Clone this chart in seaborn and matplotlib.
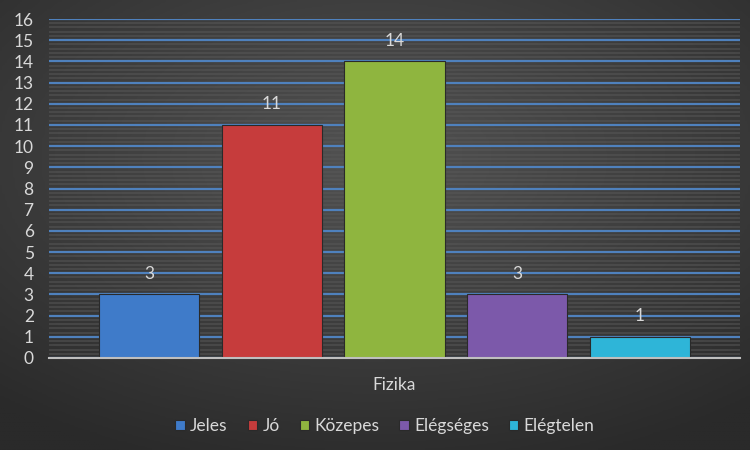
import numpy as np
import pandas as pd
import matplotlib
matplotlib.use('Agg')
import matplotlib.pyplot as plt
import seaborn as sns
from matplotlib.colors import LinearSegmentedColormap
from matplotlib.ticker import MultipleLocator

# data
category = ['Fizika']
grades = ['Jeles', 'Jó', 'Közepes', 'Elégséges', 'Elégtelen']
counts = [3, 11, 14, 3, 1]
colors = ['#3f7bc9', '#c63c3c', '#8fb53f', '#7c59aa', '#2eb5d8']

df = pd.DataFrame({'tantargy': category * len(grades), 'jegy': grades, 'db': counts})

sns.set_style('dark')
plt.rcParams['font.family'] = ['Lato', 'DejaVu Sans']
txt = '#d9d9d9'

fig = plt.figure(figsize=(7.5, 4.5), dpi=100)

# radial gradient background
bg = fig.add_axes([0, 0, 1, 1], zorder=-10)
yy, xx = np.mgrid[-1:1:200j, -1:1:300j]
r = np.sqrt(xx**2 * 0.7 + (yy + 0.3)**2 * 0.8)
cmap = LinearSegmentedColormap.from_list('bg', ['#525252', '#2a2a2a'])
bg.imshow(r, cmap=cmap, vmin=0, vmax=1.3, aspect='auto', extent=[0, 1, 0, 1])
bg.axis('off')

ax = fig.add_axes([49 / 750, 1 - 358 / 450, (740 - 49) / 750, (358 - 19) / 450])
ax.set_facecolor('none')

sns.barplot(data=df, x='tantargy', y='db', hue='jegy', hue_order=grades,
            palette=colors, saturation=1, width=0.888, gap=0.185, ax=ax, legend=True,
            edgecolor='#2a2a2a', linewidth=0.8, zorder=3)

for cont in ax.containers:
    ax.bar_label(cont, padding=9, color=txt, fontsize=12.5)

ax.set_ylim(0, 16)
ax.set_xlim(-0.5, 0.5)
ax.yaxis.set_major_locator(MultipleLocator(1))
ax.yaxis.set_minor_locator(MultipleLocator(0.2))
ax.grid(axis='y', which='major', color='#4f81bd', linewidth=1.6, zorder=1)
ax.grid(axis='y', which='minor', color='#585858', linewidth=1.2, alpha=0.6, zorder=0)
ax.grid(axis='x', visible=False)
ax.set_axisbelow(True)

for s in ['top', 'right', 'left']:
    ax.spines[s].set_visible(False)
ax.spines['bottom'].set_color('#bfbfbf')
ax.spines['bottom'].set_linewidth(1.5)
ax.spines['bottom'].set_zorder(4)

ax.tick_params(axis='y', which='both', length=0, pad=11, labelcolor=txt, labelsize=12.5)
ax.tick_params(axis='x', length=0, pad=14, labelcolor=txt, labelsize=12.5)
ax.set_xlabel('')
ax.set_ylabel('')

handles, labels = ax.get_legend_handles_labels()
ax.get_legend().remove()
fig.legend(handles, labels, loc='center', bbox_to_anchor=(385 / 750, 1 - 426 / 450),
           ncol=5, frameon=False, fontsize=12.5, labelcolor=txt,
           handlelength=0.55, handleheight=0.55, handletextpad=0.3, columnspacing=1.15)

fig.savefig('out.png', dpi=100)
